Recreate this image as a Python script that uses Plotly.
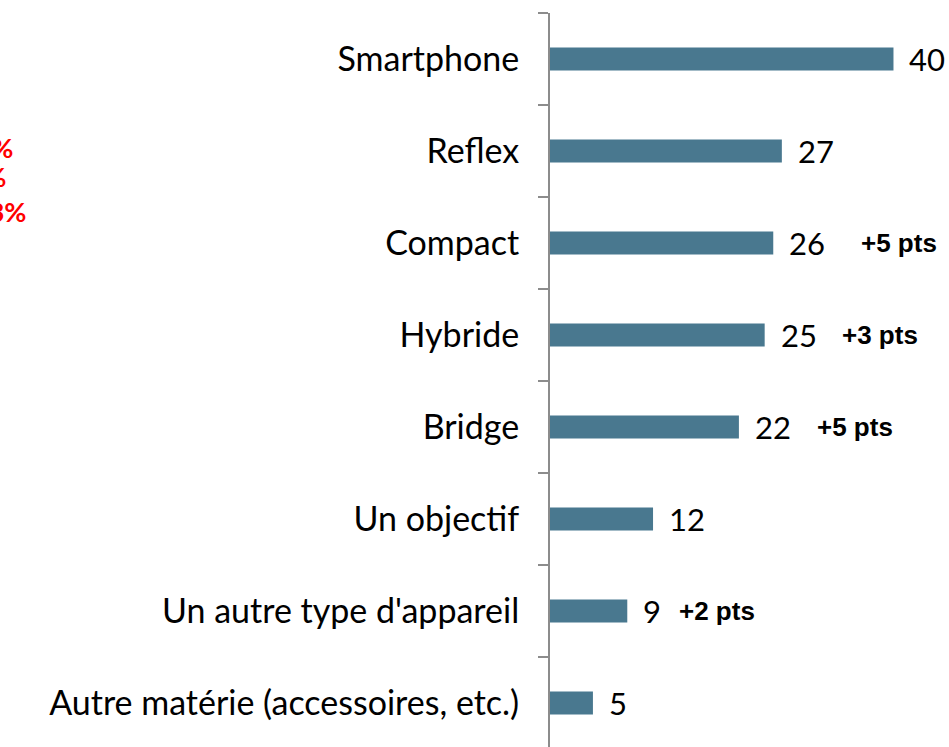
import plotly.graph_objects as go

categories = ["Smartphone", "Reflex", "Compact", "Hybride", "Bridge",
              "Un objectif", "Un autre type d'appareil",
              "Autre matérie (accessoires, etc.)"]
values = [40, 27, 26, 25, 22, 12, 9, 5]
evolutions = ["", "", "+5 pts", "+3 pts", "+5 pts", "", "+2 pts", ""]
side_notes = ["47%", "26%", "23%"]

W, H = 949, 747
ML, MR, MT, MB = 550, 4, 13, 0
XMAX = 46
plot_w = W - ML - MR

def px_to_paper_x(px):
    return (px - ML) / plot_w

def px_to_paper_y(py):
    return 1 - (py - MT) / (H - MT - MB)

BAR = "#49788F"
FONT = "Lato"

fig = go.Figure(go.Bar(
    x=values, y=categories, orientation="h",
    marker=dict(color=BAR, line=dict(width=0)),
    width=0.25, hoverinfo="skip",
))

annotations = []
for c, v in zip(categories, values):
    annotations.append(dict(
        x=v, y=c, xref="x", yref="y", text=str(v), showarrow=False,
        xanchor="left", yanchor="middle", xshift=14,
        font=dict(family=FONT, size=31, color="#000000"),
    ))

evo_shift = {"Compact": 86, "Hybride": 75, "Bridge": 76, "Un autre type d'appareil": 50}
for c, v, e in zip(categories, values, evolutions):
    if e:
        annotations.append(dict(
            x=v, y=c, xref="x", yref="y", text="<b>%s</b>" % e, showarrow=False,
            xanchor="left", yanchor="middle", xshift=evo_shift[c],
            font=dict(family="Liberation Sans", size=26, color="#000000"),
        ))

note_pos = [(15, 147), (8, 177), (28, 211)]
for t, (px, py) in zip(side_notes, note_pos):
    annotations.append(dict(
        x=px_to_paper_x(px), y=px_to_paper_y(py), xref="paper", yref="paper",
        text="<b>%s</b>" % t, showarrow=False, xanchor="right", yanchor="middle",
        font=dict(family=FONT, size=27, color="#FF0000"),
    ))

span = (H - MT - MB) / 92.0

fig.update_layout(
    width=W, height=H,
    margin=dict(l=ML, r=MR, t=MT, b=MB, pad=0),
    paper_bgcolor="white", plot_bgcolor="white",
    showlegend=False,
    bargap=0.75,
    annotations=annotations,
    xaxis=dict(range=[0, XMAX], visible=False, showgrid=False, zeroline=False),
    yaxis=dict(
        type="category", categoryorder="array", categoryarray=categories,
        range=[-0.5 + span, -0.5],
        showline=True, linecolor="#8C8C8C", linewidth=2,
        ticks="outside", ticklen=10, tickcolor="#8C8C8C", tickwidth=2,
        tickson="boundaries", ticklabelstandoff=22,
        tickfont=dict(family=FONT, size=34, color="#000000"),
        showgrid=False, zeroline=False,
    ),
)

fig.write_html("out.html", config={"displayModeBar": False},
               post_script="document.body.style.margin='0';document.body.style.overflow='hidden';")
